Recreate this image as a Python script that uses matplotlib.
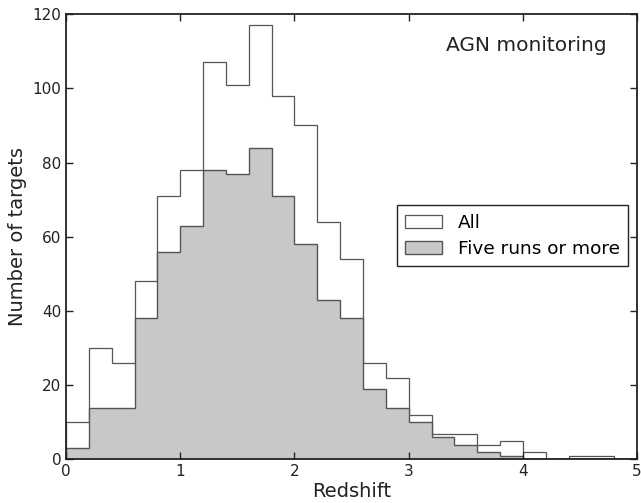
import numpy as np
import matplotlib.pyplot as plt

# redshift bins of width 0.2 from 0 to 5
bin_edges = np.arange(0, 5.01, 0.2)
all_counts = [10, 30, 26, 48, 71, 78, 107, 101, 117, 98, 90, 64, 54,
              26, 22, 12, 7, 7, 4, 5, 2, 0, 1, 1, 0]
five_counts = [3, 14, 14, 38, 56, 63, 78, 77, 84, 71, 58, 43, 38,
               19, 14, 10, 6, 4, 2, 1, 0, 0, 0, 0, 0]

plt.rcParams['font.family'] = 'DejaVu Sans'
fig = plt.figure(figsize=(6.41, 5.03), dpi=100)
ax = fig.add_axes([0.103, 0.0865, 0.891, 0.8855])

centers = bin_edges[:-1] + 0.1
ax.hist(centers, bins=bin_edges, weights=all_counts, histtype='stepfilled',
        facecolor='white', edgecolor='#555555', linewidth=0.9, label='All')
ax.hist(centers, bins=bin_edges, weights=five_counts, histtype='stepfilled',
        facecolor='#c8c8ca', edgecolor='#555555', linewidth=1.0,
        label='Five runs or more')

ax.set_xlim(0, 5)
ax.set_ylim(0, 120)
ax.set_xticks(range(6))
ax.set_yticks(range(0, 121, 20))
ax.tick_params(direction='in', top=True, right=True, length=5, width=1,
               labelsize=11, colors='#222222')
for s in ax.spines.values():
    s.set_linewidth(1.3)
    s.set_color('#222222')
ax.set_xlabel('Redshift', fontsize=14, color='#222222', labelpad=2)
ax.set_ylabel('Number of targets', fontsize=14, color='#222222')

ax.text(0.947, 0.93, 'AGN monitoring', transform=ax.transAxes,
        ha='right', va='center', fontsize=14.5, color='#222222')

leg = ax.legend(loc='center right', bbox_to_anchor=(0.984, 0.502),
                borderaxespad=0, fancybox=False, fontsize=13.3,
                handlelength=2.0, handletextpad=0.85, borderpad=0.45,
                labelspacing=0.45, framealpha=1)
leg.get_frame().set_edgecolor('#222222')
leg.get_frame().set_linewidth(1.0)

fig.savefig('out.png', dpi=100)
